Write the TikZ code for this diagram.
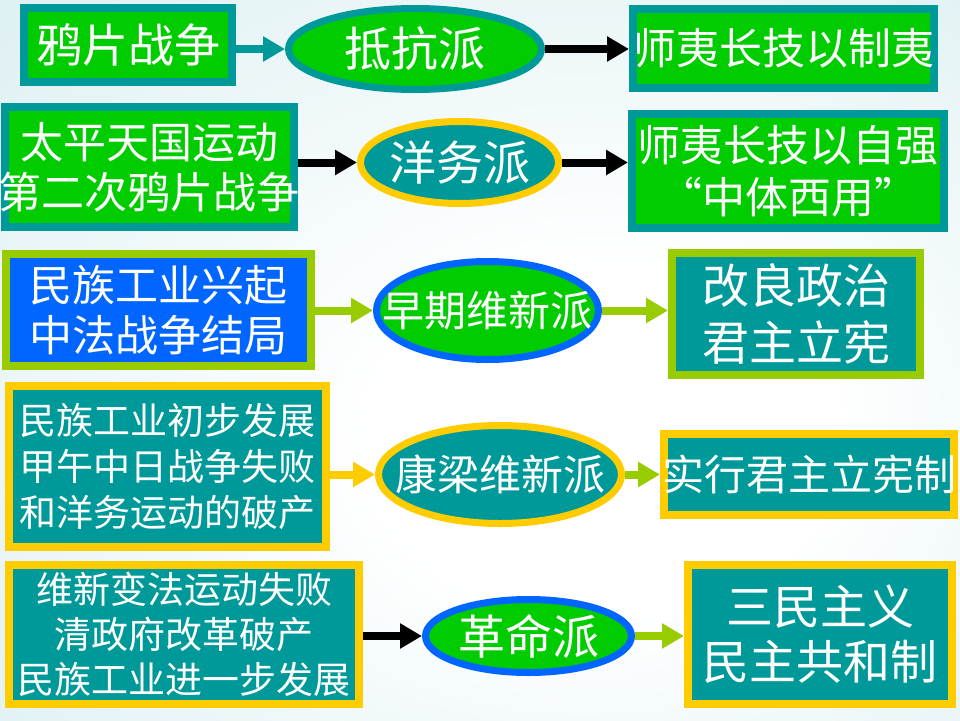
\documentclass[tikz,border=0pt]{standalone}
\usepackage{fontspec}
\newfontfamily\cjk{Noto Sans CJK SC}
\usetikzlibrary{shapes.geometric,arrows.meta}
\definecolor{cgreen}{RGB}{0,204,0}
\definecolor{cteal}{RGB}{0,153,153}
\definecolor{cgold}{RGB}{255,204,0}
\definecolor{cblue}{RGB}{0,102,255}
\definecolor{cyg}{RGB}{153,204,0}
\definecolor{bgc}{RGB}{195,228,232}
\pgfdeclareradialshading{bgshade}{\pgfpoint{8bp}{-7bp}}{color(0bp)=(white);color(12bp)=(white);color(62bp)=(bgc)}
\begin{document}
\begin{tikzpicture}[x=1pt,y=-1pt,
  box/.style={rectangle, line width=8pt, inner sep=0pt},
  oval/.style={ellipse, line width=7pt, inner sep=0pt},
  txt/.style={text=white, align=center, inner sep=0pt},
  conn/.style={line width=8pt, -{Triangle[length=22pt,width=24pt]}}]
\useasboundingbox (0,0) rectangle (960,720);
\shade[shading=bgshade] (0,0) rectangle (960,720);

% Row 1
\node[box, fill=cgreen, draw=cteal, minimum width=208pt, minimum height=74pt] (A1) at (128,45) {};
\node[oval, fill=cgreen, draw=cteal, minimum width=253pt, minimum height=81pt] (E1) at (415,49) {};
\node[box, fill=cgreen, draw=cteal, minimum width=301pt, minimum height=79pt] (R1) at (783.5,48.5) {};
\node[txt, font=\cjk\fontsize{46pt}{54pt}\selectfont] (A1t) at (A1) {鸦片战争};
\node[txt, font=\cjk\fontsize{47pt}{54pt}\selectfont] (E1t) at (E1) {抵抗派};
\node[txt, font=\cjk\fontsize{43pt}{52pt}\selectfont] (R1t) at (R1) {师夷长技以制夷};
\draw[conn, cteal] (A1.east |- E1.west) -- (E1.west);
\draw[conn, black] (E1.east) -- (R1.west |- E1.east);

% Row 2
\node[box, fill=cgreen, draw=cteal, minimum width=289pt, minimum height=120pt] (L2) at (149,167) {};
\node[oval, fill=cteal, draw=cgold, minimum width=198pt, minimum height=82pt] (E2) at (459.5,162.5) {};
\node[box, fill=cgreen, draw=cteal, minimum width=312pt, minimum height=114pt] (R2) at (788,171) {};
\node[txt, font=\cjk\fontsize{43pt}{50pt}\selectfont] (L2t) at (L2) {太平天国运动\\第二次鸦片战争};
\node[txt, font=\cjk\fontsize{47pt}{54pt}\selectfont] (E2t) at (E2) {洋务派};
\node[txt, font=\cjk\fontsize{43pt}{52pt}\selectfont] (R2t) at (R2) {师夷长技以自强\\“中体西用”};
\draw[conn, black] (L2.east |- E2.west) -- (E2.west);
\draw[conn, black] (E2.east) -- (R2.west |- E2.east);

% Row 3
\node[box, fill=cblue, draw=cyg, minimum width=305pt, minimum height=112pt] (L3) at (158.5,310) {};
\node[oval, fill=cgreen, draw=cblue, minimum width=222pt, minimum height=98pt] (E3) at (487.5,310.5) {};
\node[box, fill=cteal, draw=cyg, minimum width=248pt, minimum height=122pt] (R3) at (796,314) {};
\node[txt, font=\cjk\fontsize{43pt}{50pt}\selectfont] (L3t) at (L3) {民族工业兴起\\中法战争结局};
\node[txt, font=\cjk\fontsize{42pt}{50pt}\selectfont] (E3t) at (E3) {早期维新派};
\node[txt, font=\cjk\fontsize{47pt}{57pt}\selectfont] (R3t) at (R3) {改良政治\\君主立宪};
\draw[conn, cyg] (L3.east |- E3.west) -- (E3.west);
\draw[conn, cyg] (E3.east) -- (R3.west |- E3.east);

% Row 4
\node[box, fill=cteal, draw=cgold, minimum width=317pt, minimum height=161pt] (L4) at (167.5,466.5) {};
\node[oval, fill=cteal, draw=cgold, minimum width=243pt, minimum height=98pt] (E4) at (500,474.5) {};
\node[box, fill=cteal, draw=cgold, minimum width=290pt, minimum height=81pt] (R4) at (809,474) {};
\node[txt, font=\cjk\fontsize{37pt}{46pt}\selectfont] (L4t) at (L4) {民族工业初步发展\\甲午中日战争失败\\和洋务运动的破产};
\node[txt, font=\cjk\fontsize{42pt}{50pt}\selectfont] (E4t) at (E4) {康梁维新派};
\node[txt, font=\cjk\fontsize{42pt}{50pt}\selectfont] (R4t) at (R4) {实行君主立宪制};
\draw[conn, cgold] (L4.east |- E4.west) -- (E4.west);
\draw[conn, cyg] (E4.east) -- (R4.west |- E4.east);

% Row 5
\node[box, fill=cteal, draw=cgold, minimum width=350pt, minimum height=139pt] (L5) at (184,634.5) {};
\node[oval, fill=cgreen, draw=cblue, minimum width=206pt, minimum height=73pt] (E5) at (528.5,636) {};
\node[box, fill=cteal, draw=cgold, minimum width=264pt, minimum height=139pt] (R5) at (820,634.5) {};
\node[txt, font=\cjk\fontsize{37pt}{45pt}\selectfont] (L5t) at (L5) {维新变法运动失败\\清政府改革破产\\民族工业进一步发展};
\node[txt, font=\cjk\fontsize{47pt}{55pt}\selectfont] (E5t) at (E5) {革命派};
\node[txt, font=\cjk\fontsize{47pt}{55pt}\selectfont] (R5t) at (R5) {三民主义\\民主共和制};
\draw[conn, black] (L5.east |- E5.west) -- (E5.west);
\draw[conn, cyg] (E5.east) -- (R5.west |- E5.east);
\end{tikzpicture}
\end{document}
